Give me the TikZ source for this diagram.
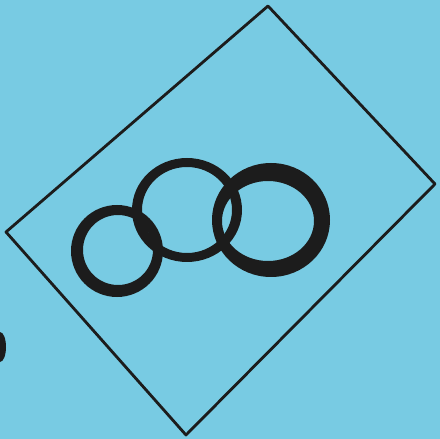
\documentclass[tikz,border=0pt]{standalone}
\usepackage{xcolor}
\usepackage{tikz}
\definecolor{paper}{HTML}{78CBE3}
\definecolor{inkblack}{HTML}{1C1C1C}

\begin{document}
\begin{tikzpicture}[
  x=0.02cm, y=-0.02cm,
  outline/.style={draw=inkblack, line width=1.6pt, line join=round},
  ring/.style={fill=inkblack, even odd rule}
]
% paper
\fill[paper] (0,0) rectangle (440,439);
\useasboundingbox (0,0) rectangle (440,439);
\clip (0,0) rectangle (440,439);
% tilted frame
\coordinate (top) at (268,6);
\coordinate (right) at (435,184);
\coordinate (bottom) at (186,435);
\coordinate (left) at (6,232);
\draw[outline] (top) -- (right) -- (bottom) -- (left) -- cycle;
% left ring
\fill[ring] (117,251) ellipse [x radius=46, y radius=46]
  (118,250) ellipse [x radius=35, y radius=35];
% middle ring
\fill[ring] (187,210) ellipse [x radius=55, y radius=52]
  (187,210) ellipse [x radius=45, y radius=43];
% right ring
\fill[ring] (271,220) ellipse [x radius=59, y radius=57]
  (268,221) ellipse [x radius=46, y radius=40];
% blot at the edge
\fill[inkblack] (0,347) ellipse [x radius=6, y radius=15];
\end{tikzpicture}
\end{document}
